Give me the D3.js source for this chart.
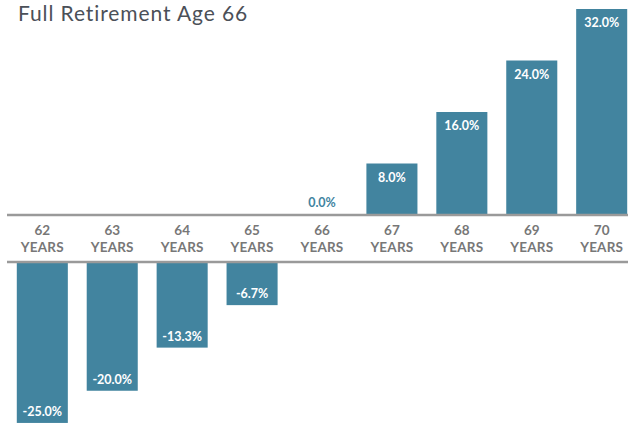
<!DOCTYPE html>
<html><head><meta charset="utf-8">
<script src="https://cdn.jsdelivr.net/npm/d3@7"></script>
<style>body{margin:0;background:#fff;}svg{display:block;font-family:Lato,"Open Sans",sans-serif;}</style>
</head><body><svg id="c" width="628" height="423"></svg>
<script>
const ages = ["62","63","64","65","66","67","68","69","70"];
const values = [-25.0,-20.0,-13.3,-6.7,0.0,8.0,16.0,24.0,32.0];
const valueLabels = ["-25.0%","-20.0%","-13.3%","-6.7%","0.0%","8.0%","16.0%","24.0%","32.0%"];
const unitLabel = "YEARS";
const title = "Full Retirement Age 66";

const svg = d3.select("#c");
const barColor = "#42849f";
const topLine = 215, botLine = 262;
const x = d3.scaleBand().domain(ages).range([7, 637]).paddingInner(0.27).paddingOuter(0.14);
const h = d3.scaleLinear().domain([0, 32]).range([0, 206]);

svg.append("text").attr("x", 18).attr("y", 21).attr("fill", "#4b5058")
  .attr("font-size", 21).attr("letter-spacing", 0.9).text(title);

const g = svg.append("g");
ages.forEach((a, i) => {
  const v = values[i];
  const bx = x(a), bw = x.bandwidth(), cx = bx + bw / 2;
  if (v > 0) {
    g.append("rect").attr("x", bx).attr("y", topLine - h(v)).attr("width", bw).attr("height", h(v)).attr("fill", barColor);
    g.append("text").attr("x", cx).attr("y", topLine - h(v) + 18).attr("text-anchor", "middle")
      .attr("fill", "#fff").attr("font-size", 12.5).attr("font-weight", 700).text(valueLabels[i]);
  } else if (v < 0) {
    g.append("rect").attr("x", bx).attr("y", botLine).attr("width", bw).attr("height", h(-v)).attr("fill", barColor);
    g.append("text").attr("x", cx).attr("y", botLine + h(-v) - 7).attr("text-anchor", "middle")
      .attr("fill", "#fff").attr("font-size", 12.5).attr("font-weight", 700).text(valueLabels[i]);
  } else {
    g.append("text").attr("x", cx).attr("y", topLine - 8).attr("text-anchor", "middle")
      .attr("fill", barColor).attr("font-size", 12.5).attr("font-weight", 700).text(valueLabels[i]);
  }
  g.append("text").attr("x", cx).attr("y", 235).attr("text-anchor", "middle").attr("fill", "#777")
    .attr("font-size", 13.5).attr("font-weight", 700).text(a);
  g.append("text").attr("x", cx).attr("y", 251.5).attr("text-anchor", "middle").attr("fill", "#777")
    .attr("font-size", 13.5).attr("font-weight", 700).attr("letter-spacing", 0.2).text(unitLabel);
});

svg.append("line").attr("x1", 7).attr("x2", 628).attr("y1", topLine).attr("y2", topLine)
  .attr("stroke", "#9a9a9a").attr("stroke-width", 2.5);
svg.append("line").attr("x1", 7).attr("x2", 628).attr("y1", botLine).attr("y2", botLine)
  .attr("stroke", "#9a9a9a").attr("stroke-width", 2.5);
</script></body></html>
